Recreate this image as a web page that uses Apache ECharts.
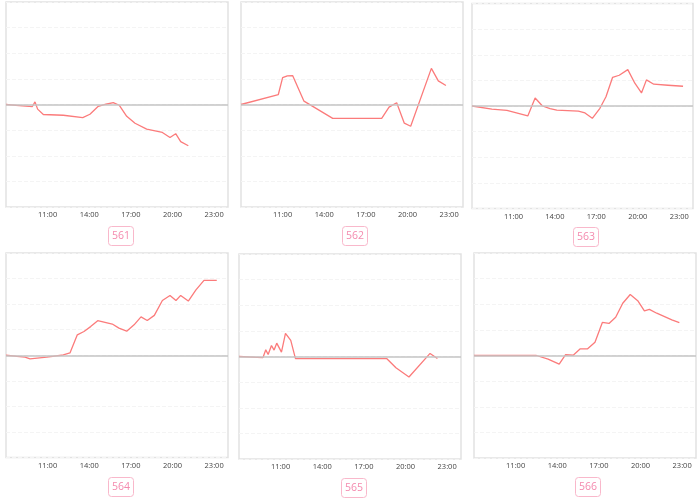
<!DOCTYPE html>
<html>
<head>
<meta charset="utf-8">
<script src="https://cdn.jsdelivr.net/npm/echarts@6/dist/echarts.min.js"></script>
<style>html,body{margin:0;padding:0;background:#fff}#c{width:700px;height:500px}</style>
</head>
<body>
<div id="c"></div>
<script>
// Panel names
var names = ['561', '562', '563', '564', '565', '566'];
// Hour tick labels shown on x axis
var tickHours = [11, 14, 17, 20, 23];

// Data: time (hours of day) and value (relative units)
var t561 = [8, 9.90, 10.09, 10.28, 10.69, 12.13, 13.53, 14.05, 14.65, 15.2, 15.73, 16.17, 16.70, 17.30, 18.14, 19.27, 19.82, 20.23, 20.59, 21.14];
var v561 = [0, -0.08, 0.1, -0.18, -0.39, -0.42, -0.51, -0.38, -0.07, 0.01, 0.07, -0.03, -0.46, -0.73, -0.96, -1.09, -1.29, -1.14, -1.45, -1.61];

var t562 = [8, 10.69, 11.0, 11.34, 11.72, 12.54, 14.61, 18.14, 18.67, 19.22, 19.77, 20.23, 21.72, 22.22, 22.77];
var v562 = [0, 0.39, 1.05, 1.12, 1.13, 0.13, -0.54, -0.54, -0.1, 0.07, -0.73, -0.85, 1.41, 0.92, 0.74];

var t563 = [8, 9.44, 10.53, 12.04, 12.57, 13.10, 13.65, 14.14, 15.70, 16.18, 16.71, 17.26, 17.70, 18.18, 18.66, 19.28, 19.79, 20.27, 20.63, 21.16, 22.19, 23.28];
var v563 = [0, -0.12, -0.17, -0.39, 0.31, 0, -0.10, -0.16, -0.20, -0.27, -0.48, -0.09, 0.36, 1.12, 1.20, 1.42, 0.89, 0.51, 1.02, 0.85, 0.81, 0.77];

var t564 = [8, 9.37, 9.73, 10.93, 12.13, 12.61, 13.14, 13.62, 14.10, 14.61, 15.66, 16.14, 16.70, 17.23, 17.73, 18.18, 18.69, 19.27, 19.82, 20.25, 20.59, 21.14, 21.69, 22.27, 23.19];
var v564 = [0, -0.07, -0.14, -0.07, 0.01, 0.09, 0.80, 0.93, 1.12, 1.35, 1.22, 1.06, 0.94, 1.19, 1.50, 1.36, 1.56, 2.14, 2.34, 2.14, 2.34, 2.12, 2.56, 2.93, 2.93];

var t565 = [8, 9.73, 9.93, 10.10, 10.34, 10.53, 10.72, 11.06, 11.35, 11.73, 12.07, 18.64, 19.31, 20.25, 21.77, 22.30];
var v565 = [0, -0.04, 0.26, 0.08, 0.43, 0.25, 0.52, 0.17, 0.90, 0.63, -0.08, -0.08, -0.44, -0.80, 0.12, -0.08];

var t566 = [8, 12.50, 13.34, 14.14, 14.60, 15.15, 15.66, 16.19, 16.72, 17.25, 17.73, 18.21, 18.72, 19.26, 19.80, 20.28, 20.64, 21.17, 22.26, 22.80];
var v566 = [0, 0, -0.14, -0.34, 0.03, 0.01, 0.26, 0.26, 0.52, 1.29, 1.25, 1.49, 2.04, 2.38, 2.14, 1.74, 1.80, 1.65, 1.39, 1.28];

var times = [t561, t562, t563, t564, t565, t566];
var values = [v561, v562, v563, v564, v565, v566];

// Layout (pixels)
var grids = [
  {left: 6, top: 2, width: 222, height: 205},
  {left: 241, top: 2, width: 222, height: 205},
  {left: 472, top: 3.5, width: 221, height: 205},
  {left: 6, top: 253, width: 222, height: 204.5},
  {left: 239, top: 254, width: 222, height: 205},
  {left: 474, top: 253, width: 222, height: 205}
];
var titlePos = [[117, 226], [351, 226], [582, 227], [117, 477], [350, 478], [584, 477]];

var option = {
  animation: false,
  backgroundColor: '#fff',
  title: [],
  grid: [],
  xAxis: [],
  yAxis: [],
  series: []
};

for (var i = 0; i < 6; i++) {
  var g = grids[i];
  option.grid.push({left: g.left, top: g.top, width: g.width, height: g.height,
    show: true, borderColor: '#e2e2e2', borderWidth: 1.5, containLabel: false});
  option.title.push({
    text: names[i], left: titlePos[i][0], top: titlePos[i][1], textAlign: 'center',
    padding: [5, 4, 4, 4], borderColor: '#f9b8cb', borderWidth: 1, borderRadius: 3,
    textStyle: {color: '#f48aae', fontSize: 10.5, fontWeight: 'normal', fontFamily: 'Open Sans, sans-serif'}
  });
  option.xAxis.push({
    type: 'value', gridIndex: i, min: 8, max: 24, interval: 1,
    axisLine: {show: false}, axisTick: {show: false}, splitLine: {show: false},
    axisLabel: {
      margin: 4, fontSize: 7.5, color: '#444', fontFamily: 'Open Sans, sans-serif',
      showMinLabel: false, showMaxLabel: false,
      formatter: function (v) { return tickHours.indexOf(v) >= 0 ? (v + ':00') : ''; }
    }
  });
  option.yAxis.push({
    type: 'value', gridIndex: i, min: -4, max: 4, interval: 1,
    axisLine: {show: false}, axisTick: {show: false}, axisLabel: {show: false},
    splitLine: {show: true, lineStyle: {color: '#f4f4f4', type: 'dashed', width: 1}}
  });
  var d = times[i].map(function (t, k) { return [t, values[i][k]]; });
  option.series.push({
    type: 'line', xAxisIndex: i, yAxisIndex: i, data: d,
    showSymbol: false, symbol: 'none',
    lineStyle: {color: '#fb7b7b', width: 1.3},
    itemStyle: {color: '#fb7b7b'},
    markLine: {
      silent: true, symbol: 'none', label: {show: false},
      lineStyle: {color: '#c4c4c4', type: 'solid', width: 1.5},
      data: [{yAxis: 0}]
    },
    z: 3
  });
}

var chart = echarts.init(document.getElementById('c'), null, {renderer: 'canvas'});
chart.setOption(option);
</script>
</body>
</html>
